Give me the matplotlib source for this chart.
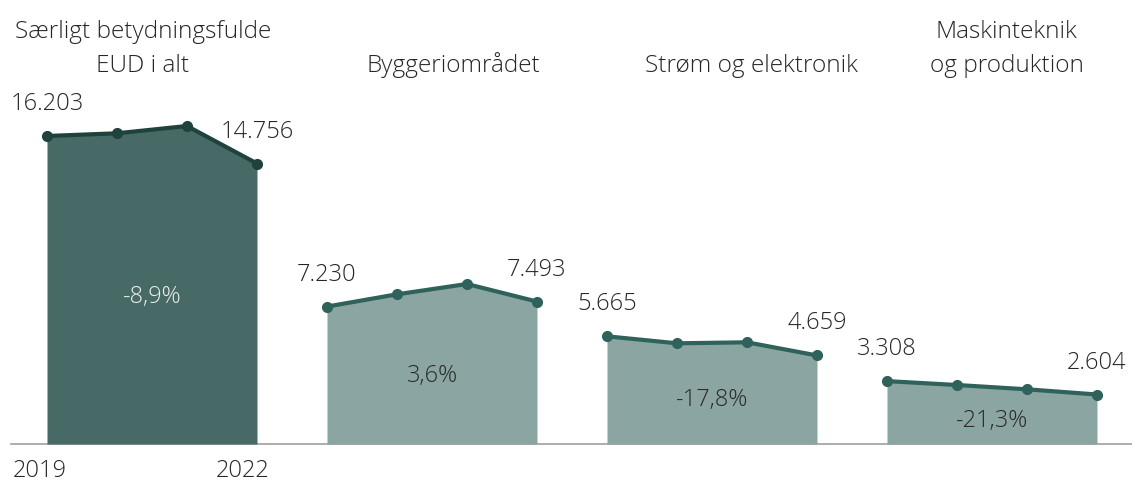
import matplotlib
matplotlib.use("Agg")
import matplotlib.pyplot as plt

groups = ["Særligt betydningsfulde\nEUD i alt", "Byggeriområdet",
          "Strøm og elektronik", "Maskinteknik\nog produktion"]
years = ["2019", "2020", "2021", "2022"]
total = [16203, 16345, 16729, 14756]
bygg = [7230, 7875, 8417, 7493]
strom = [5665, 5297, 5350, 4659]
maskin = [3308, 3104, 2877, 2604]
changes = ["-8,9%", "3,6%", "-17,8%", "-21,3%"]

series = [total, bygg, strom, maskin]
fills = ["#476a66", "#8aa5a2", "#8aa5a2", "#8aa5a2"]
lines = ["#1f423c", "#2e625a", "#2e625a", "#2e625a"]
pct_colors = ["#ececec", "#2a2a2a", "#2a2a2a", "#2a2a2a"]
title_x = [1.37, 5.8, 10.07, 13.71]

plt.rcParams["font.family"] = ["Open Sans", "DejaVu Sans"]
TXT = "#262626"
FS = 17

fig = plt.figure(figsize=(11.32, 4.84), dpi=100)
ax = fig.add_axes([0, 0, 1, 1])
ax.set_xlim(-47 / 70, (1132 - 47) / 70)
ax.set_ylim(-(484 - 444) / 0.019009, 444 / 0.019009)
ax.axis("off")

ax.axhline(0, xmin=11 / 1132, xmax=1, color="#a0a0a0", lw=1.2, zorder=1)

for g, vals in enumerate(series):
    xs = [g * 4 + i for i in range(len(vals))]
    ax.fill_between(xs, 0, vals, color=fills[g], lw=0, zorder=2)
    ax.plot(xs, vals, color=lines[g], lw=3, marker="o", ms=7, zorder=3,
            solid_capstyle="round")
    for i in (0, len(vals) - 1):
        ax.annotate(f"{vals[i]:,}".replace(",", "."), (xs[i], vals[i]),
                    xytext=(0, 23), textcoords="offset points",
                    ha="center", va="center", fontsize=FS, color=TXT,
                    fontweight="light")
    ax.annotate(changes[g], (sum(xs) / len(xs), sum(vals) / len(vals) / 2),
                xytext=(0, -4), textcoords="offset points",
                ha="center", va="center", fontsize=FS, color=pct_colors[g],
                fontweight="light")
    ax.text(title_x[g], 19250, groups[g], ha="center", va="bottom",
            fontsize=17.6, color=TXT, fontweight="light", linespacing=1.55)

ax.text(-0.1, -1400, years[0], ha="center", va="center", fontsize=FS,
        color=TXT, fontweight="light")
ax.text(2.79, -1400, years[-1], ha="center", va="center", fontsize=FS,
        color=TXT, fontweight="light")

fig.savefig("out.png", dpi=100)
